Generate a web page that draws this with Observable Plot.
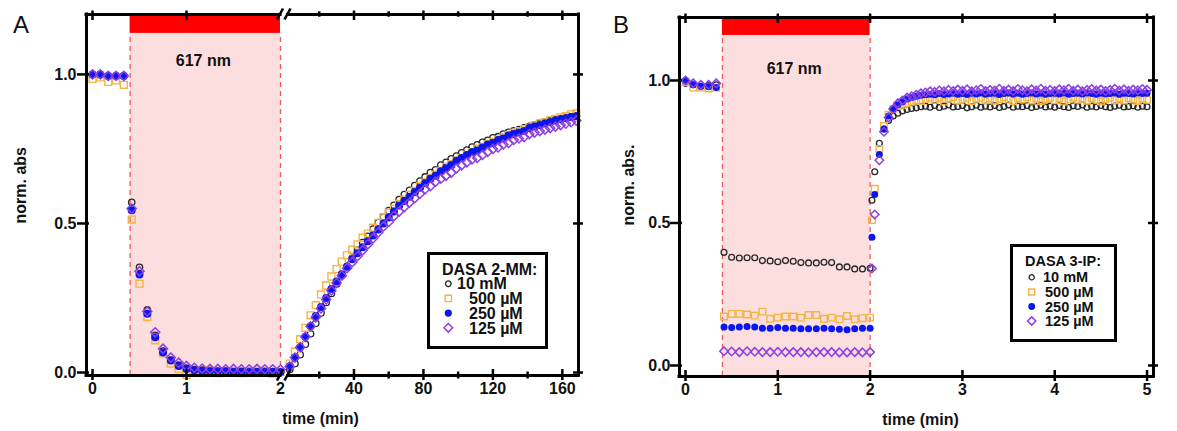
<!DOCTYPE html>
<html>
<head>
<meta charset="utf-8">
<script src="https://cdn.jsdelivr.net/npm/d3@7"></script>
<script src="https://cdn.jsdelivr.net/npm/@observablehq/plot@0.6"></script>
<style>
  html,body{margin:0;padding:0;background:#fff;}
  #fig{position:relative;width:1177px;height:431px;overflow:hidden;font-family:"Liberation Sans",Arial,Helvetica,sans-serif;color:#111;}
  .panel{position:absolute;top:0;}
  .letter{position:absolute;font-size:24px;line-height:1;color:#111;}
  #overlay{position:absolute;left:0;top:0;pointer-events:none;overflow:visible;}
</style>
</head>
<body>
<div id="fig">
  <div id="panelA" class="panel" style="left:0px"></div>
  <div id="panelB" class="panel" style="left:590px"></div>
  <div class="letter" style="left:13px;top:13px;">A</div>
  <div class="letter" style="left:613px;top:13px;">B</div>
</div>
<script>
// ---------------- data ----------------
const seriesNames = ["10 mM", "500 µM", "250 µM", "125 µM"];
const lightOn = 0.4, lightOff = 2.0;

// Panel A (DASA 2-MM): 0–2 min (fast) and 2–168 min (slow recovery)
const aFastT = [0, 0.083, 0.167, 0.25, 0.333, 0.417, 0.5, 0.583, 0.667, 0.75, 0.833, 0.917, 1.0, 1.083, 1.167, 1.25, 1.333, 1.417, 1.5, 1.583, 1.667, 1.75, 1.833, 1.917, 2.0];
const a10Fast  = [1.0, 1.0, 0.995, 0.995, 0.995, 0.571, 0.353, 0.21, 0.125, 0.072, 0.042, 0.025, 0.015, 0.01, 0.008, 0.006, 0.005, 0.005, 0.004, 0.004, 0.004, 0.003, 0.004, 0.003, 0.003];
const a500Fast = [0.985, 0.99, 0.975, 0.98, 0.965, 0.513, 0.298, 0.186, 0.108, 0.064, 0.03, 0.012, -0.008, 0.002, 0.0, 0.008, -0.002, 0.0, 0.004, -0.002, 0.002, 0.006, 0.0, -0.004, 0.002];
const a250Fast = [1.0, 1.0, 0.995, 0.995, 0.995, 0.544, 0.329, 0.197, 0.118, 0.067, 0.04, 0.022, 0.012, 0.008, 0.005, 0.004, 0.003, 0.003, 0.002, 0.002, 0.002, 0.002, 0.002, 0.002, 0.002];
const a125Fast = [1.0, 1.0, 0.995, 0.995, 0.995, 0.55, 0.34, 0.205, 0.135, 0.08, 0.05, 0.033, 0.022, 0.016, 0.013, 0.012, 0.012, 0.011, 0.012, 0.011, 0.011, 0.012, 0.011, 0.011, 0.01];

const aSlowT = [3, 6, 9, 12, 15, 18, 21, 24, 27, 30, 33, 36, 39, 42, 45, 48, 51, 54, 57, 60, 63, 66, 69, 72, 75, 78, 81, 84, 87, 90, 93, 96, 99, 102, 105, 108, 111, 114, 117, 120, 123, 126, 129, 132, 135, 138, 141, 144, 147, 150, 153, 156, 159, 162, 165, 168];
const a10Slow = [0.01, 0.03, 0.06, 0.095, 0.13, 0.165, 0.20, 0.235, 0.265, 0.297,
  0.327, 0.356, 0.384, 0.41, 0.436, 0.457, 0.481, 0.503, 0.522, 0.543,
  0.561, 0.58, 0.597, 0.611, 0.627, 0.642, 0.656, 0.671, 0.68, 0.696,
  0.705, 0.717, 0.726, 0.737, 0.746, 0.756, 0.764, 0.772, 0.779, 0.787,
  0.791, 0.80, 0.806, 0.811, 0.815, 0.821, 0.826, 0.83, 0.836, 0.84,
  0.845, 0.848, 0.852, 0.855, 0.858, 0.861];
const a500Slow = [0.03, 0.07, 0.112, 0.15, 0.192, 0.226, 0.262, 0.292, 0.322, 0.347,
  0.372, 0.393, 0.412, 0.43, 0.452, 0.466, 0.486, 0.502, 0.521, 0.536,
  0.55, 0.566, 0.58, 0.596, 0.609, 0.626, 0.638, 0.651, 0.664, 0.676,
  0.69, 0.699, 0.711, 0.72, 0.731, 0.739, 0.751, 0.755, 0.766, 0.774,
  0.781, 0.789, 0.796, 0.804, 0.81, 0.816, 0.821, 0.829, 0.836, 0.84,
  0.846, 0.851, 0.856, 0.86, 0.866, 0.869];
const a250Slow = [0.02, 0.05, 0.085, 0.12, 0.155, 0.19, 0.22, 0.25, 0.28, 0.305,
  0.33, 0.355, 0.38, 0.40, 0.42, 0.44, 0.46, 0.48, 0.50, 0.52,
  0.54, 0.56, 0.575, 0.59, 0.605, 0.62, 0.635, 0.65, 0.66, 0.675,
  0.685, 0.695, 0.71, 0.72, 0.73, 0.74, 0.745, 0.755, 0.765, 0.77,
  0.78, 0.785, 0.795, 0.80, 0.805, 0.81, 0.82, 0.825, 0.83, 0.835,
  0.84, 0.845, 0.85, 0.853, 0.857, 0.86];
const a125Slow = [0.02, 0.05, 0.085, 0.12, 0.155, 0.185, 0.215, 0.245, 0.275, 0.30,
  0.325, 0.35, 0.37, 0.39, 0.41, 0.43, 0.45, 0.47, 0.49, 0.505,
  0.525, 0.54, 0.555, 0.57, 0.585, 0.60, 0.615, 0.625, 0.64, 0.65,
  0.66, 0.67, 0.685, 0.695, 0.705, 0.715, 0.72, 0.73, 0.74, 0.75,
  0.755, 0.765, 0.77, 0.78, 0.785, 0.79, 0.80, 0.805, 0.81, 0.815,
  0.82, 0.825, 0.83, 0.835, 0.84, 0.845];

// Panel B (DASA 3-IP): 0–5 min
const bFastT = [0, 0.083, 0.167, 0.25, 0.333, 0.417, 0.5, 0.583, 0.667, 0.75, 0.833, 0.917, 1.0, 1.083, 1.167, 1.25, 1.333, 1.417, 1.5, 1.583, 1.667, 1.75, 1.833, 1.917, 2.0];
const b10Fast  = [0.99, 0.985, 0.98, 0.982, 0.985, 0.397, 0.380, 0.377, 0.378, 0.378, 0.368, 0.367, 0.364, 0.368, 0.366, 0.361, 0.360, 0.360, 0.362, 0.361, 0.346, 0.346, 0.339, 0.339, 0.341];
const b500Fast = [0.995, 0.975, 0.975, 0.972, 0.975, 0.172, 0.181, 0.181, 0.179, 0.175, 0.189, 0.164, 0.168, 0.172, 0.172, 0.168, 0.177, 0.177, 0.164, 0.168, 0.162, 0.174, 0.162, 0.166, 0.168];
const b250Fast = [1.0, 0.985, 0.98, 0.978, 0.975, 0.135, 0.133, 0.135, 0.137, 0.135, 0.131, 0.131, 0.133, 0.131, 0.131, 0.129, 0.129, 0.129, 0.131, 0.129, 0.127, 0.125, 0.129, 0.131, 0.131];
const b125Fast = [1.0, 0.99, 0.985, 0.985, 0.99, 0.05, 0.049, 0.047, 0.05, 0.048, 0.047, 0.047, 0.048, 0.047, 0.047, 0.047, 0.046, 0.047, 0.047, 0.047, 0.046, 0.046, 0.047, 0.046, 0.047];

const bRecT = [2.02, 2.05, 2.10, 2.15, 2.20, 2.25, 2.30, 2.35, 2.40, 2.45,
  2.50, 2.55, 2.60, 2.65, 2.70, 2.75, 2.80, 2.85, 2.90, 2.95,
  3.00, 3.05, 3.10, 3.15, 3.20, 3.25, 3.30, 3.35, 3.40, 3.45,
  3.50, 3.55, 3.60, 3.65, 3.70, 3.75, 3.80, 3.85, 3.90, 3.95,
  4.00, 4.05, 4.10, 4.15, 4.20, 4.25, 4.30, 4.35, 4.40, 4.45,
  4.50, 4.55, 4.60, 4.65, 4.70, 4.75, 4.80, 4.85, 4.90, 4.95,
  5.00];
const b10Rec = [0.58, 0.68, 0.78, 0.83, 0.86, 0.875, 0.885, 0.893, 0.898, 0.902,
  0.904, 0.908, 0.91, 0.906, 0.912, 0.905, 0.91, 0.914, 0.907, 0.909,
  0.912, 0.904, 0.908, 0.913, 0.906, 0.91, 0.907, 0.912, 0.905, 0.909,
  0.914, 0.906, 0.91, 0.908, 0.912, 0.905, 0.909, 0.913, 0.907, 0.91,
  0.906, 0.912, 0.908, 0.905, 0.911, 0.909, 0.914, 0.906, 0.91, 0.907,
  0.912, 0.908, 0.905, 0.91, 0.913, 0.907, 0.909, 0.911, 0.906, 0.91,
  0.908];
const b500Rec = [0.51, 0.62, 0.76, 0.84, 0.88, 0.90, 0.91, 0.915, 0.92, 0.925,
  0.93, 0.928, 0.935, 0.94, 0.932, 0.938, 0.926, 0.936, 0.941, 0.93,
  0.934, 0.939, 0.928, 0.936, 0.94, 0.931, 0.937, 0.929, 0.935, 0.942,
  0.933, 0.927, 0.938, 0.934, 0.94, 0.93, 0.936, 0.928, 0.935, 0.939,
  0.931, 0.937, 0.926, 0.934, 0.94, 0.932, 0.936, 0.929, 0.938, 0.933,
  0.927, 0.935, 0.94, 0.931, 0.936, 0.93, 0.938, 0.933, 0.928, 0.935,
  0.932];
const b250Rec = [0.45, 0.60, 0.74, 0.83, 0.875, 0.90, 0.915, 0.925, 0.935, 0.94,
  0.945, 0.948, 0.95, 0.952, 0.95, 0.954, 0.951, 0.953, 0.955, 0.952,
  0.954, 0.951, 0.955, 0.953, 0.956, 0.952, 0.954, 0.955, 0.951, 0.954,
  0.956, 0.953, 0.955, 0.952, 0.954, 0.956, 0.953, 0.955, 0.952, 0.954,
  0.955, 0.953, 0.956, 0.952, 0.954, 0.955, 0.953, 0.956, 0.954, 0.952,
  0.955, 0.953, 0.954, 0.956, 0.952, 0.955, 0.954, 0.953, 0.956, 0.954,
  0.955];
const b125Rec = [0.34, 0.53, 0.72, 0.82, 0.87, 0.90, 0.92, 0.93, 0.94, 0.945,
  0.95, 0.955, 0.958, 0.962, 0.96, 0.965, 0.962, 0.967, 0.963, 0.968,
  0.964, 0.969, 0.962, 0.966, 0.97, 0.963, 0.967, 0.965, 0.971, 0.964,
  0.968, 0.963, 0.97, 0.966, 0.962, 0.969, 0.965, 0.971, 0.964, 0.967,
  0.963, 0.969, 0.966, 0.971, 0.964, 0.968, 0.962, 0.967, 0.97, 0.965,
  0.968, 0.963, 0.967, 0.971, 0.965, 0.969, 0.964, 0.968, 0.966, 0.97,
  0.967];

// axis ticks / labels
const xLabelsA = [0, 1, 2, 40, 80, 120, 160];
const xMajorA = [0, 1, 40, 80, 120, 160];
const xMinorA = [20, 60, 100, 140];
const xLabelsB = [0, 1, 2, 3, 4, 5];
const yTicks = [0, 0.5, 1.0];
const breakA = [2, 2.0001];

// ---------------- styles ----------------
const symOf = ["circle", "square", "circle", "diamond2"];
const strokeOf = ["#262626", "#f3b446", "none", "#8c3fe4"];
const fillOf = ["none", "none", "#0b16ee", "none"];
const swOf = [1.3, 1.4, 0, 1.5];
const FONT = "'Liberation Sans', Arial, Helvetica, sans-serif";

function rows(t, v, s) { return t.map((d, i) => ({t: d, v: v[i], s})); }

const aData = [
  rows(aFastT, a10Fast, 0).concat(rows(aSlowT, a10Slow, 0)),
  rows(aFastT, a500Fast, 1).concat(rows(aSlowT, a500Slow, 1)),
  rows(aFastT, a250Fast, 2).concat(rows(aSlowT, a250Slow, 2)),
  rows(aFastT, a125Fast, 3).concat(rows(aSlowT, a125Slow, 3))
];
const bData = [
  rows(bFastT, b10Fast, 0).concat(rows(bRecT, b10Rec, 0)),
  rows(bFastT, b500Fast, 1).concat(rows(bRecT, b500Rec, 1)),
  rows(bFastT, b250Fast, 2).concat(rows(bRecT, b250Rec, 2)),
  rows(bFastT, b125Fast, 3).concat(rows(bRecT, b125Rec, 3))
];

function panel(o) {
  const fw = o.width - o.ml - o.mr, fh = o.height - o.mt - o.mb;
  const x0 = o.xDomain[0], x1 = o.xDomain[o.xDomain.length - 1];
  const [y0, y1] = o.yDomain;
  const axis = {stroke: "#000", strokeWidth: 3, strokeLinecap: "square"};
  const tk = {stroke: "#000", strokeWidth: 2.5};
  const marks = [
    // illumination window
    Plot.rect([0], {x1: lightOn, x2: lightOff, y1: y0, y2: o.barBase, fill: "#fcdede"}),
    Plot.ruleX([lightOn, lightOff], {x: d => d, y1: y0, y2: o.barBase, stroke: "#f05a5e", strokeWidth: 1.3, strokeDasharray: "5,4"}),
    Plot.rect([0], {x1: lightOn, x2: lightOff, y1: o.barBase, y2: y1, fill: "#ff0000"}),
    Plot.text(["617 nm"], {x: (lightOn + lightOff) / 2, frameAnchor: "top", dy: o.nmDy, dx: -2, fontWeight: "bold", fontSize: o.fs, fill: "#111"})
  ];
  // data
  o.data.forEach((d, i) => {
    marks.push(Plot.dot(d, {x: "t", y: "v", symbol: symOf[i], r: o.r[i], stroke: strokeOf[i], fill: fillOf[i], strokeWidth: swOf[i]}));
  });
  // axis lines
  marks.push(Plot.ruleX([x0], axis), Plot.ruleX([x1], axis));
  for (const [a, b] of o.segments) {
    marks.push(Plot.ruleY([y0], {x1: a, x2: b, ...axis}));
    marks.push(Plot.ruleY([y1], {x1: a, x2: b, ...axis}));
  }
  // ticks
  marks.push(
    Plot.tickX(o.xMajor, {x: d => d, ...tk, insetTop: fh - 6, insetBottom: -5}),
    Plot.tickX(o.xMajor, {x: d => d, ...tk, insetTop: -3.5, insetBottom: fh - 6}),
    Plot.tickY(yTicks, {y: d => d, ...tk, insetLeft: -9, insetRight: fw - 3}),
    Plot.tickY(yTicks, {y: d => d, ...tk, insetLeft: fw - 5, insetRight: -5})
  );
  if (o.xMinor) marks.push(
    Plot.tickX(o.xMinor, {x: d => d, ...tk, insetTop: fh - 3.5, insetBottom: -3.5}),
    Plot.tickX(o.xMinor, {x: d => d, ...tk, insetTop: -2.7, insetBottom: fh - 2.7})
  );
  // tick labels and titles
  marks.push(
    Plot.text(o.xLabels, {x: d => d, frameAnchor: "bottom", dy: 18.5, text: d => String(d), fontWeight: "bold", fontSize: o.fs, fill: "#111"}),
    Plot.text(yTicks, {y: d => d, frameAnchor: "left", dx: o.yLabDx, textAnchor: "end", text: d => d.toFixed(1), fontWeight: "bold", fontSize: o.fs, fill: "#111"}),
    Plot.text([o.xTitle], {frameAnchor: "bottom", dy: 48, dx: o.xTitleDx, fontWeight: "bold", fontSize: o.fs, fill: "#111"}),
    Plot.text([o.yTitle], {frameAnchor: "left", dx: o.yTitleDx, dy: 28.5, rotate: -90, fontWeight: "bold", fontSize: o.fs, fill: "#111"})
  );
  return Plot.plot({
    width: o.width, height: o.height,
    marginLeft: o.ml, marginRight: o.mr, marginTop: o.mt, marginBottom: o.mb,
    style: {fontFamily: FONT, fontSize: "16px", background: "transparent", overflow: "visible", color: "#111"},
    x: {type: "linear", domain: o.xDomain, range: o.xRange, axis: null},
    y: {domain: o.yDomain, axis: null},
    marks
  });
}

const chartA = panel({
  width: 590, height: 431, ml: 86, mr: 12, mt: 14, mb: 56,
  xDomain: [-0.064, 2, 2.0001, 169.3], xRange: [86, 280, 287.5, 578],
  yDomain: [-0.01, 1.201], barBase: 1.1376, nmDy: 40, fs: 16,
  data: aData, r: [3.2, 3.9, 4, 4.1],
  segments: [[-0.064, 2], [2.0001, 169.3]],
  xMajor: xMajorA, xMinor: xMinorA, xLabels: xLabelsA,
  yLabDx: -10, xTitle: "time (min)", xTitleDx: -12, yTitle: "norm. abs", yTitleDx: -66
});
const chartB = panel({
  width: 587, height: 431, ml: 89, mr: 24, mt: 17, mb: 55,
  xDomain: [-0.065, 5.07], xRange: undefined,
  yDomain: [-0.0386, 1.221], barBase: 1.158, nmDy: 45, fs: 16,
  data: bData, r: [2.9, 3.7, 3.5, 3.8],
  segments: [[-0.065, 5.07]],
  xMajor: xLabelsB, xMinor: null, xLabels: xLabelsB,
  yLabDx: -9, xTitle: "time (min)", xTitleDx: 4, yTitle: "norm. abs.", yTitleDx: -51
});
document.getElementById("panelA").appendChild(chartA);
document.getElementById("panelB").appendChild(chartB);

// ---------------- overlay: axis-break marks + legends ----------------
const svg = d3.select("#fig").append("svg").attr("id", "overlay").attr("width", 1177).attr("height", 431);

// axis break "//" on panel A, positioned with the chart's own scales
const sx = chartA.scale("x"), sy = chartA.scale("y");
for (const yv of sy.domain) {
  const py = sy.apply(yv);
  for (const xv of breakA) {
    const px = sx.apply(xv);
    svg.append("line").attr("x1", px - 3).attr("y1", py + 5.5).attr("x2", px + 3).attr("y2", py - 5.5)
      .attr("stroke", "#000").attr("stroke-width", 2.6);
  }
}

const symType = {circle: d3.symbolCircle, square: d3.symbolSquare, diamond2: d3.symbolDiamond2 || d3.symbolDiamond};
function legend(L) {
  const g = svg.append("g").attr("font-family", FONT).attr("font-weight", "bold").attr("font-size", L.fs).attr("fill", "#111");
  g.append("rect").attr("x", L.x0 + 1.5).attr("y", L.y0 + 1.5).attr("width", L.x1 - L.x0 - 3).attr("height", L.y1 - L.y0 - 3)
    .attr("fill", "#fff").attr("stroke", "#000").attr("stroke-width", 3);
  g.append("text").attr("x", L.titleX).attr("y", L.titleY + 0.358 * L.fs).text(L.title);
  seriesNames.forEach((name, i) => {
    const cy = L.rowY[i];
    g.append("path").attr("transform", `translate(${L.symX},${cy})`)
      .attr("d", d3.symbol(symType[symOf[i]], Math.PI * L.r[i] * L.r[i])())
      .attr("fill", fillOf[i]).attr("stroke", strokeOf[i]).attr("stroke-width", swOf[i]);
    g.append("text").attr("x", L.textX[i]).attr("y", cy + 0.358 * L.fs).text(name);
  });
}
legend({x0: 427, y0: 252, x1: 548, y1: 349, fs: 16, title: "DASA 2-MM:", titleX: 442, titleY: 269,
  rowY: [283.7, 298.4, 313.1, 327.8], symX: 448.3, textX: [457, 469, 469, 469], r: [2.8, 3.6, 3.6, 3.9]});
legend({x0: 1010, y0: 244, x1: 1117, y1: 342, fs: 14.5, title: "DASA 3-IP:", titleX: 1025, titleY: 261,
  rowY: [277.3, 292, 306.5, 321], symX: 1031.7, textX: [1043, 1045, 1045, 1045], r: [2.6, 3.4, 3.4, 3.7]});
</script>
</body>
</html>
